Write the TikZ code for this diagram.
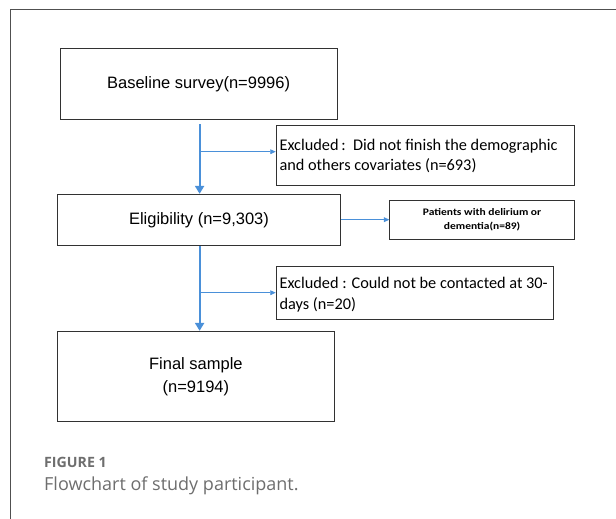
\documentclass[tikz,border=0pt]{standalone}
\usepackage{fontspec}
\setmainfont{Liberation Sans}
\newfontfamily\calib{Carlito}
\newfontfamily\calibwide[FakeStretch=1.15]{Carlito}
\newfontfamily\capfont{Open Sans}
\usetikzlibrary{arrows.meta,calc}
\definecolor{flowblue}{RGB}{74,144,217}
\definecolor{boxgray}{RGB}{50,50,50}
\definecolor{framegray}{RGB}{80,80,80}
\definecolor{capgray}{RGB}{110,110,110}
\tikzset{
  mainbox/.style={draw=boxgray, line width=0.9pt, rectangle, inner sep=0pt, align=center, font=\fontsize{16.5}{23}\selectfont},
  exbox/.style={draw=boxgray, line width=0.9pt, rectangle, inner sep=0pt},
  extext/.style={anchor=west, inner sep=0pt, align=left, font=\calib\fontsize{16.3}{20.5}\selectfont},
  smallbox/.style={draw=boxgray, line width=0.9pt, rectangle, inner sep=0pt, align=center, font=\calibwide\bfseries\fontsize{10}{14}\selectfont},
  thickarrow/.style={draw=flowblue, line width=2pt, -{Triangle[length=8pt,width=9pt]}},
  thinarrow/.style={draw=flowblue, line width=0.9pt, -{Triangle[length=5.5pt,width=4.8pt]}},
}
\begin{document}
\begin{tikzpicture}[x=1pt,y=1pt]
\useasboundingbox[fill=white] (0,0) rectangle (616,-519);
\draw[framegray, line width=1pt] (10.6,-519) -- (10.6,-10) -- (616,-10);

\node[mainbox, minimum width=277pt, minimum height=71pt] (box1) at (198.6,-83.8) {Baseline survey(n=9996)};
\node[exbox, minimum width=298.2pt, minimum height=60pt] (ex1) at (425.3,-155.7) {};
\node[extext] (ex1t) at ([xshift=3.6pt,yshift=-0.5pt]ex1.west) {Excluded\,:\ \ Did not finish the demographic\\and others covariates (n=693)};
\node[mainbox, minimum width=283.3pt, minimum height=51.4pt] (elig) at (199,-220) {Eligibility (n=9,303)};
\node[smallbox, minimum width=184.6pt, minimum height=38.7pt] (del) at (482.1,-219.7) {Patients with delirium or\\dementia(n=89)};
\node[exbox, minimum width=277.4pt, minimum height=52.3pt] (ex2) at (414.9,-292.8) {};
\node[extext] (ex2t) at ([xshift=3.6pt,yshift=-2pt]ex2.west) {Excluded : Could not be contacted at 30-\\days (n=20)};
\node[mainbox, minimum width=277pt, minimum height=90.4pt] (final) at (195.9,-376.5) {Final sample\\(n=9194)};

\coordinate (a1) at (199.6,-124.3);
\coordinate (b1) at (199.6,-151.7);
\coordinate (b2) at (199.6,-292.7);
\draw[thickarrow] (a1) -- (a1 |- elig.north);
\draw[thinarrow] (b1) -- (b1 -| ex1.west);
\draw[thinarrow] (elig.east |- del.west) -- (del.west);
\draw[thickarrow] (elig.south -| a1) -- (a1 |- final.north);
\draw[thinarrow] (b2) -- (b2 -| ex2.west);

\node[anchor=base west, inner sep=0pt, text=capgray, font=\capfont\bfseries\fontsize{14.2}{17}\selectfont] (fig) at (44,-467.3) {FIGURE 1};
\node[anchor=base west, inner sep=0pt, text=capgray, font=\capfont\fontsize{18}{21}\selectfont] (cap) at (44,-490) {Flowchart of study participant.};
\end{tikzpicture}
\end{document}
